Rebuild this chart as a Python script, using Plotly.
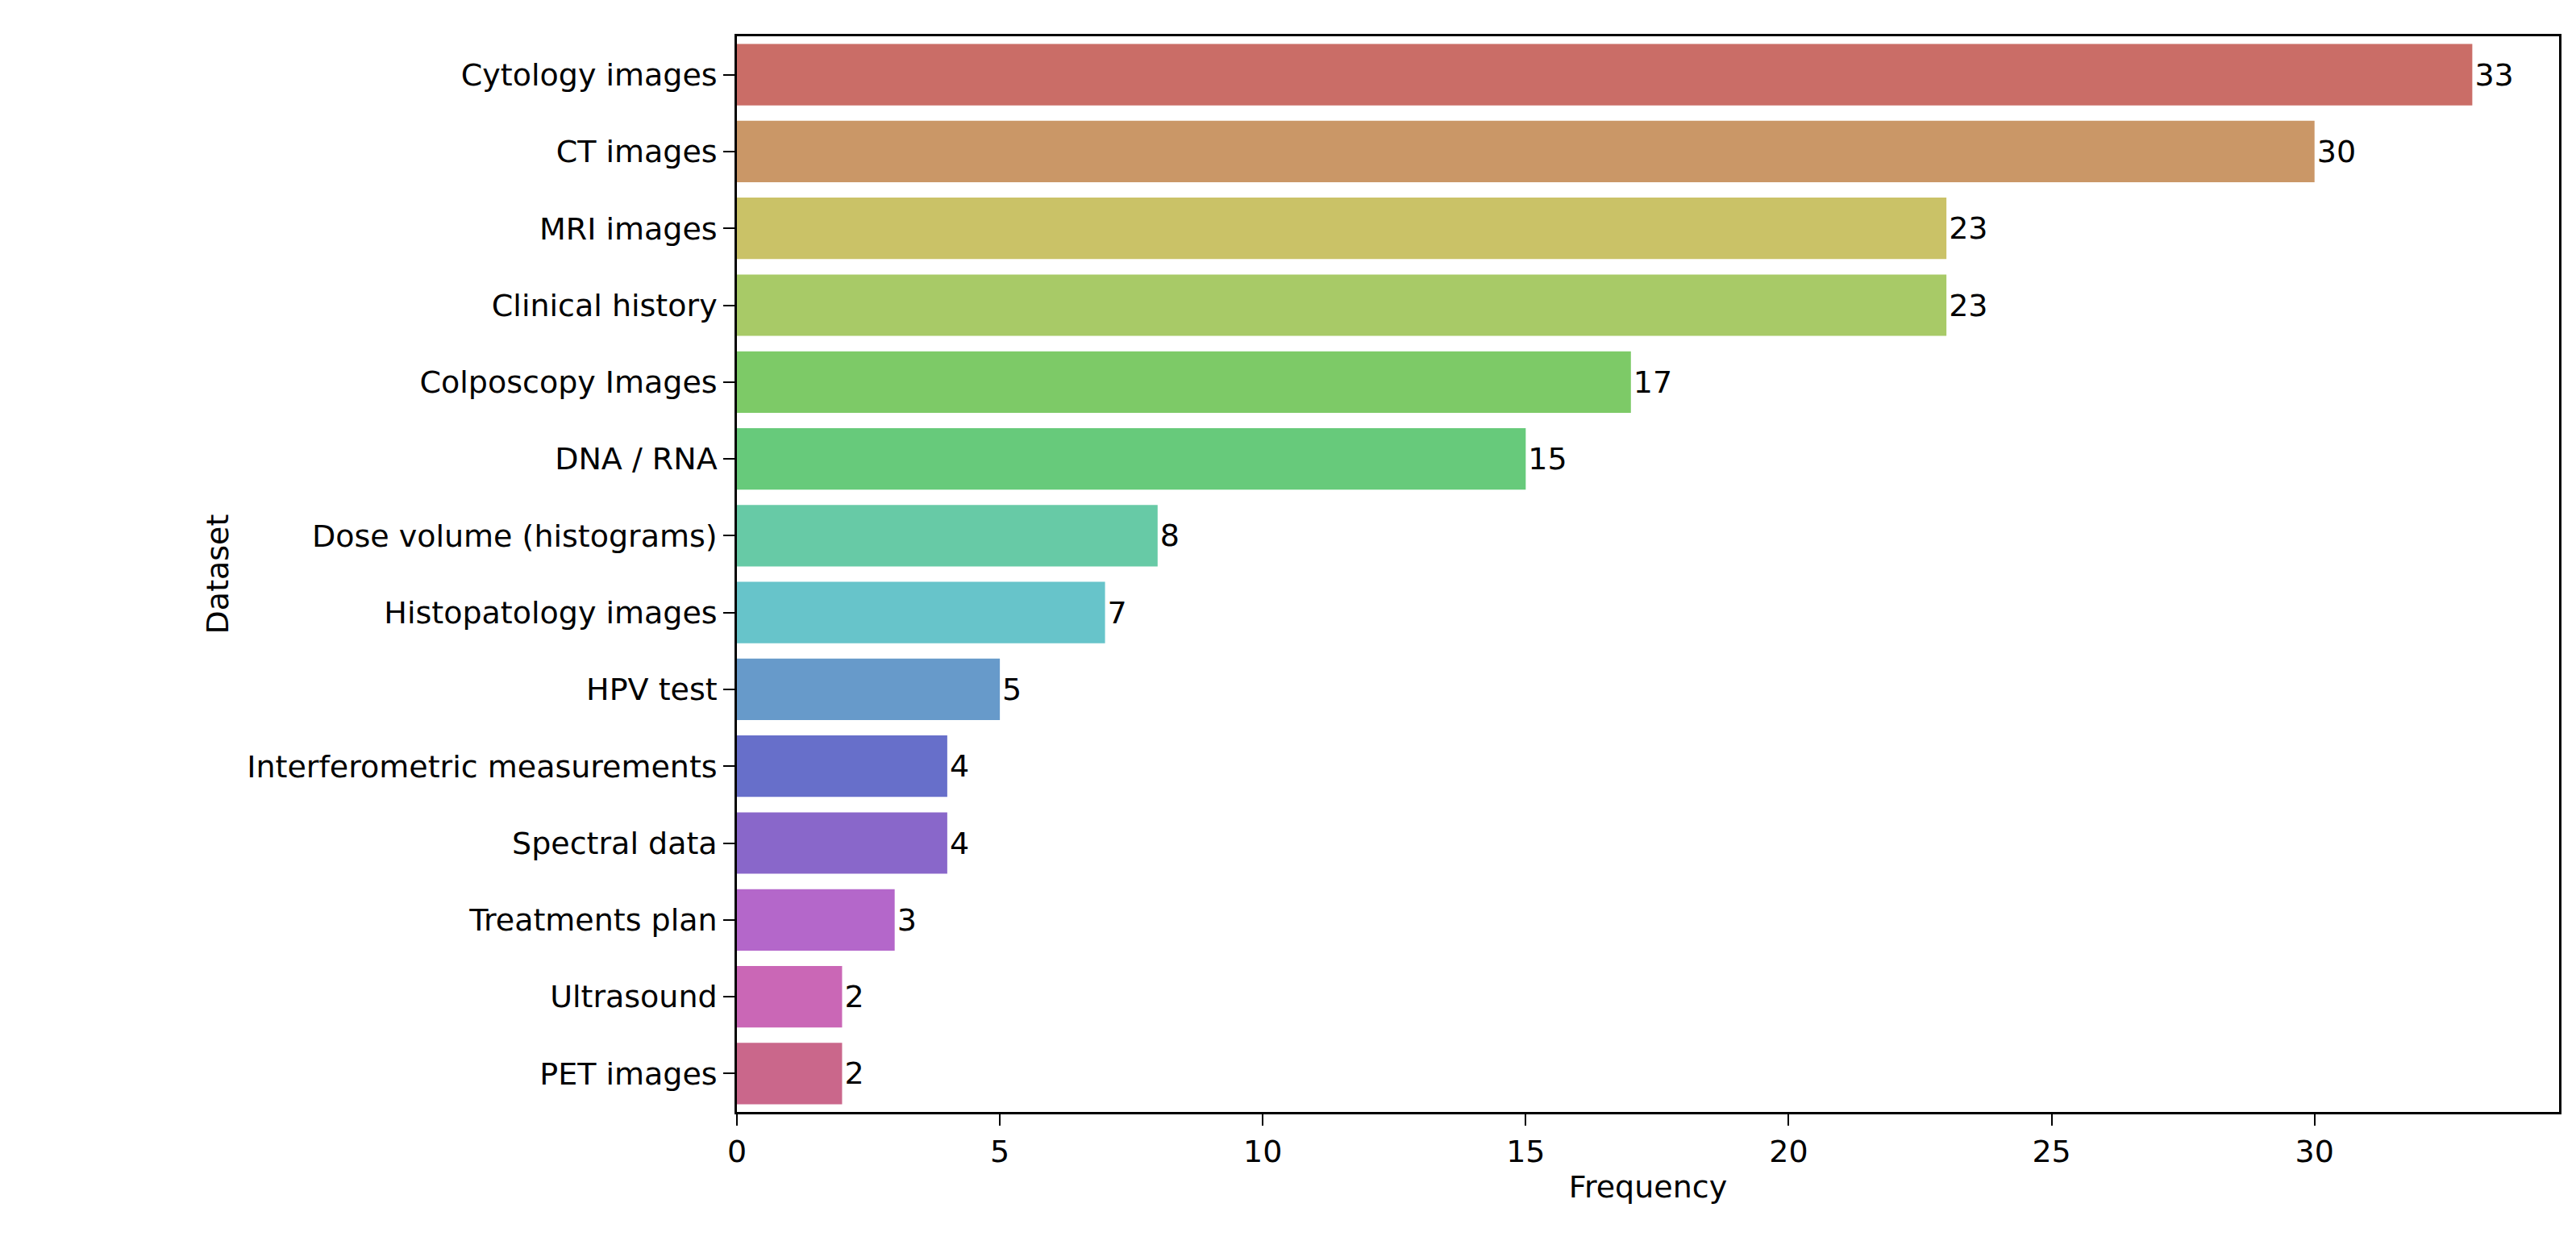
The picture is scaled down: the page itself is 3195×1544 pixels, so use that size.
import colorsys
import plotly.graph_objects as go

categories = ["Cytology images", "CT images", "MRI images", "Clinical history", "Colposcopy Images",
              "DNA / RNA", "Dose volume (histograms)", "Histopatology images", "HPV test",
              "Interferometric measurements", "Spectral data", "Treatments plan", "Ultrasound", "PET images"]
values = [33, 30, 23, 23, 17, 15, 8, 7, 5, 4, 4, 3, 2, 2]

n = len(categories)
colors = []
for i in range(n):
    h = (i / n + 0.01) % 1
    r, g, b = colorsys.hls_to_rgb(h, 0.6, 0.65)
    hh, ll, ss = colorsys.rgb_to_hls(r, g, b)
    r, g, b = colorsys.hls_to_rgb(hh, ll, ss * 0.75)
    colors.append("rgb(%d,%d,%d)" % (r * 255, g * 255, b * 255))

FS = 38
fig = go.Figure(go.Bar(
    x=values, y=categories, orientation="h", marker=dict(color=colors, line=dict(width=0)),
    text=[str(v) for v in values], textposition="outside", cliponaxis=False,
    textfont=dict(size=FS, color="black"), width=0.8))

axis_common = dict(showline=True, linecolor="black", linewidth=2.5, mirror=True, ticks="outside",
                   ticklen=14, tickwidth=2, tickcolor="black", showgrid=False, zeroline=False,
                   tickfont=dict(size=FS, color="black"))
fig.update_layout(
    width=3195, height=1544, plot_bgcolor="white", paper_bgcolor="white",
    font=dict(family="DejaVu Sans", size=FS, color="black"),
    margin=dict(l=906, r=29, t=37, b=173), showlegend=False, bargap=0.2,
    xaxis=dict(range=[0, 34.65], tickvals=[0, 5, 10, 15, 20, 25, 30],
               title=dict(text="Frequency", font=dict(size=FS), standoff=10), **axis_common),
    yaxis=dict(title=dict(text="Dataset", font=dict(size=FS), standoff=12), **axis_common),
)
fig.update_yaxes(range=[n - 0.5, -0.5], autorange=False)
fig.write_html("out.html")
